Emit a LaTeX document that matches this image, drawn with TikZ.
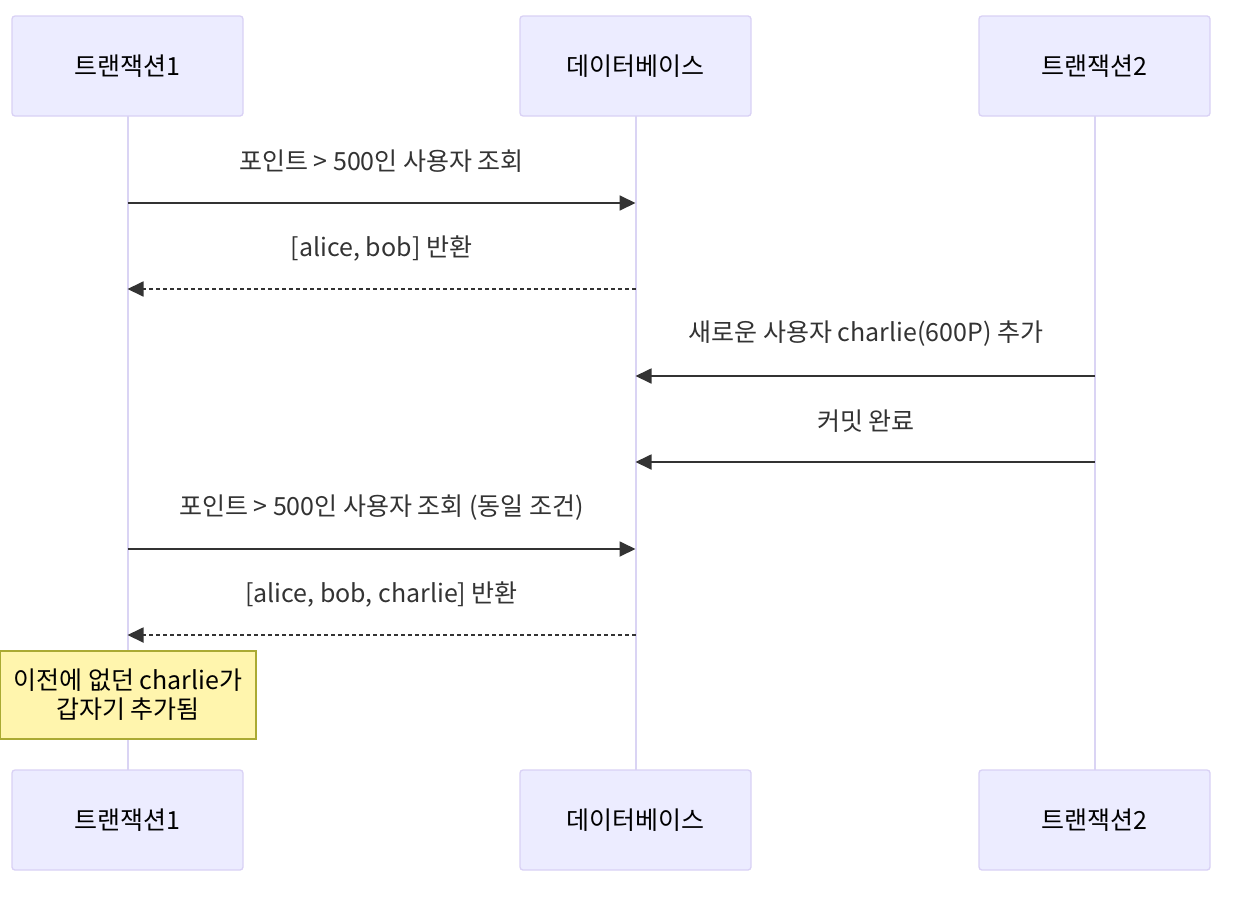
\documentclass[tikz,border=0pt]{standalone}
\usepackage{fontspec}
\setmainfont{Noto Sans CJK KR}
\usetikzlibrary{arrows.meta}
\definecolor{actfill}{HTML}{ECECFF}
\definecolor{actdraw}{HTML}{D9D1F5}
\definecolor{lifec}{HTML}{DAD4F4}
\definecolor{msgc}{HTML}{333333}
\definecolor{notefill}{HTML}{FFF5AD}
\definecolor{notedraw}{HTML}{AAAA33}
\tikzset{
  actor/.style={draw=actdraw, line width=1.3pt, fill=actfill, rounded corners=3pt, minimum width=231pt, minimum height=100pt, inner sep=0pt, font=\fontsize{25}{30}\selectfont, text=black},
  life/.style={draw=lifec, line width=2pt},
  msg/.style={draw=msgc, line width=1.8pt, -{Triangle[length=16pt,width=15pt]}},
  dmsg/.style={msg, dash pattern=on 4pt off 3pt},
  mlabel/.style={font=\fontsize{25}{30}\selectfont, text=msgc, inner sep=0pt},
  notebox/.style={draw=notedraw, line width=1.2pt, fill=notefill, minimum width=256pt, minimum height=88pt, inner sep=0pt, align=center, font=\fontsize{25}{29}\selectfont, text=black}
}
\begin{document}
\begin{tikzpicture}[x=1pt,y=-1pt]
\useasboundingbox (0,0) rectangle (1241,905);
\fill[white] (0,0) rectangle (1241,905);
% lifelines
\coordinate (l1t) at (127.5,116); \coordinate (l1b) at (127.5,770);
\coordinate (l2t) at (635.5,116); \coordinate (l2b) at (635.5,770);
\coordinate (l3t) at (1094.5,116); \coordinate (l3b) at (1094.5,770);
\draw[life] (l1t) -- (l1b);
\draw[life] (l2t) -- (l2b);
\draw[life] (l3t) -- (l3b);
% actors
\node[actor] (a1) at (127.5,66) {트랜잭션1};
\node[actor] (a2) at (635.5,66) {데이터베이스};
\node[actor] (a3) at (1094.5,66) {트랜잭션2};
\node[actor] (b1) at (127.5,820) {트랜잭션1};
\node[actor] (b2) at (635.5,820) {데이터베이스};
\node[actor] (b3) at (1094.5,820) {트랜잭션2};
% message endpoints
\foreach \i/\y in {1/203,2/289,3/376,4/462,5/549,6/635}{
  \coordinate (p1\i) at (127.5,\y);
  \coordinate (p2\i) at (635.5,\y);
  \coordinate (p3\i) at (1094.5,\y);
}
\draw[msg] (p11) -- (p21);
\node[mlabel] (t1) at (381.5,161) {포인트 > 500인 사용자 조회};
\draw[dmsg] (p22) -- (p12);
\node[mlabel] (t2) at (381.5,248) {[alice, bob] 반환};
\draw[msg] (p33) -- (p23);
\node[mlabel] (t3) at (866,334) {새로운 사용자 charlie(600P) 추가};
\draw[msg] (p34) -- (p24);
\node[mlabel] (t4) at (866,421) {커밋 완료};
\draw[msg] (p15) -- (p25);
\node[mlabel] (t5) at (381.5,508) {포인트 > 500인 사용자 조회 (동일 조건)};
\draw[dmsg] (p26) -- (p16);
\node[mlabel] (t6) at (381.5,594) {[alice, bob, charlie] 반환};
% note
\node[notebox] (n1) at (128,695) {이전에 없던 charlie가\\갑자기 추가됨};
\end{tikzpicture}
\end{document}
